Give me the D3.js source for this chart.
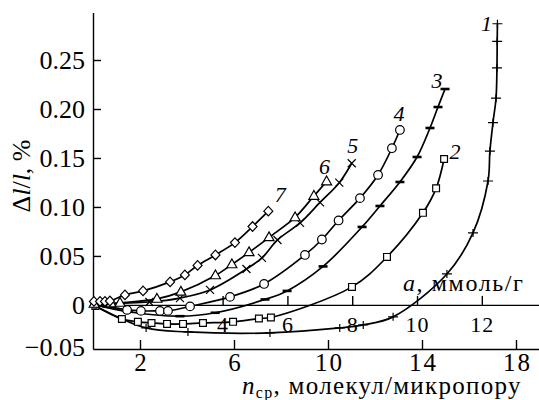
<!DOCTYPE html>
<html>
<head>
<meta charset="utf-8">
<script src="https://cdn.jsdelivr.net/npm/d3@7/dist/d3.min.js"></script>
<style>
  body { margin: 0; background: #fff; }
  svg { display: block; }
  svg text { font-family: 'Liberation Serif', 'DejaVu Serif', serif !important; fill: #000; }
</style>
</head>
<body>
<script>
// n_cp (molecules per micropore) vs dl/l, %
var s1 = [[0.1,-0.001],[2.26,-0.0235],[4.04,-0.0276],[7.53,-0.0286],[10.5,-0.0235],[11.5,-0.0204],
          [12.77,-0.0122],[15.06,0.0316],[16.17,0.0735],[16.81,0.1265],[16.89,0.157],[17.02,0.186],
          [17.15,0.211],[17.19,0.242],[17.2,0.269],[17.21,0.287]];
var s2 = [[0.1,-0.001],[1.23,-0.0143],[1.91,-0.0173],[2.49,-0.0184],[3.15,-0.0194],[3.83,-0.0194],
          [4.68,-0.0184],[5.96,-0.0173],[7.06,-0.0138],[7.57,-0.0128],[11.02,0.0184],[12.51,0.049],
          [14.04,0.094],[14.6,0.119],[14.94,0.149]];
var s3 = [[0.1,0],[1.5,-0.007],[3.7,-0.0115],[5.2,-0.008],[7.32,0.0056],[8.26,0.0143],[9.79,0.0393],
          [11.45,0.0796],[12.21,0.101],[13.06,0.1255],[13.79,0.151],[14.34,0.1806],[14.68,0.202],
          [14.98,0.2204]];
var s4 = [[0.1,0.001],[1.45,-0.0051],[2.04,-0.0061],[2.85,-0.0061],[3.19,-0.0061],[4.13,-0.0015],
          [5.83,0.0082],[7.28,0.0214],[9.02,0.051],[9.74,0.0668],[10.45,0.0862],[11.36,0.109],
          [12.13,0.1327],[12.72,0.160],[13.06,0.1786]];
var s5 = [[0.3,0.001],[2.4,0.003],[3.7,0.007],[4.98,0.0153],[6.53,0.0367],[7.19,0.048],[7.85,0.0663],
          [8.81,0.0837],[9.66,0.1046],[10.48,0.1248],[11.01,0.1446]];
var s6 = [[0.05,0.001],[0.77,0.0015],[1.15,0.002],[2.72,0.0061],[3.74,0.0133],[5.21,0.0301],
          [5.91,0.0413],[6.64,0.0536],[7.49,0.0689],[8.6,0.0893],[9.4,0.1112],[9.94,0.126]];
var s7 = [[0.04,0.0036],[0.3,0.0036],[0.51,0.0036],[0.72,0.004],[1.36,0.0102],[2.13,0.0143],
          [3.28,0.0235],[3.91,0.0306],[4.45,0.0403],[5.21,0.051],[6.04,0.0636],[6.79,0.080],
          [7.46,0.0957]];

var seriesNames = ["1","2","3","4","5","6","7"];
var nTicks = [2, 6, 10, 14, 18];
var aTicks = [4, 6, 8, 10, 12];
var yTicks = [-0.05, 0, 0.05, 0.10, 0.15, 0.20, 0.25];

var FONT = "'Liberation Serif', 'DejaVu Serif', serif";
var W = 539, H = 400;
var svg = d3.select("body").append("svg")
            .attr("width", W)
            .attr("height", H)
            .style("font-family", FONT);

var x = d3.scaleLinear().domain([0, 19]).range([93, 539.5]);
var xa = d3.scaleLinear().domain([0, 13.78]).range([93, 539.5]);   // a, mmol/g
var y = d3.scaleLinear().domain([-0.045, 0.2985]).range([349, 12.5]);

// axes
var yAxis = svg.append("g")
    .attr("transform", "translate(93,0)")
    .call(d3.axisLeft(y).tickValues(yTicks).tickSizeInner(-8).tickSizeOuter(0).tickPadding(8)
        .tickFormat(function(d){ return d === 0 ? "0" : d3.format(".2f")(d); }));
yAxis.selectAll(".tick").filter(function(d){ return d < -0.045; })
    .each(function(){ d3.select(this).select("line").remove();
                      d3.select(this).select("text").attr("dy", "0.05em"); });

var xAxis = svg.append("g")
    .attr("transform", "translate(0,349)")
    .call(d3.axisBottom(x).tickValues(nTicks).tickSizeInner(-9).tickSizeOuter(0).tickPadding(4));

var aAxis = svg.append("g")
    .attr("transform", "translate(0," + y(0) + ")")
    .call(d3.axisBottom(xa).tickValues(aTicks).tickSizeInner(-9).tickSizeOuter(0).tickPadding(11));

svg.selectAll("g").attr("font-family", FONT);
svg.selectAll(".domain, .tick line").attr("stroke", "#000").attr("stroke-width", 1.4);
yAxis.selectAll("text").attr("font-size", 26);
xAxis.selectAll("text").attr("font-size", 25).attr("letter-spacing", 2).attr("dx", 1);
aAxis.selectAll("text").attr("font-size", 22).attr("letter-spacing", 1);

// titles
var yt = svg.append("text")
    .attr("transform", "translate(30,176) rotate(-90)")
    .attr("text-anchor", "middle")
    .attr("font-size", 26);
yt.append("tspan").text("\u0394");
yt.append("tspan").attr("font-style", "italic").text("l");
yt.append("tspan").text("/");
yt.append("tspan").attr("font-style", "italic").text("l");
yt.append("tspan").text(", %");

var xt = svg.append("text")
    .attr("x", 242).attr("y", 394)
    .attr("font-size", 25)
    .attr("letter-spacing", 1.3);
xt.append("tspan").attr("font-style", "italic").text("n");
xt.append("tspan").attr("font-size", 16).attr("dy", 4).text("\u0441\u0440");
xt.append("tspan").attr("dy", -4).text(", \u043c\u043e\u043b\u0435\u043a\u0443\u043b/\u043c\u0438\u043a\u0440\u043e\u043f\u043e\u0440\u0443");

var at = svg.append("text")
    .attr("x", 403).attr("y", 291)
    .attr("font-size", 24)
    .attr("letter-spacing", 1.6);
at.append("tspan").attr("font-style", "italic").text("a");
at.append("tspan").text(", \u043c\u043c\u043e\u043b\u044c/\u0433");

// curves
var line = d3.line()
    .x(function(d){ return x(d[0]); })
    .y(function(d){ return y(d[1]); })
    .curve(d3.curveCatmullRom.alpha(0.5));

var all = [s1, s2, s3, s4, s5, s6, s7];

svg.selectAll("path.curve")
    .data(all)
    .enter().append("path")
    .attr("class", "curve")
    .attr("d", line)
    .attr("fill", "none")
    .attr("stroke", "#000")
    .attr("stroke-width", 1.7);

// markers
var sym = {
  plus: "M-5,0H5M0,-4V4",
  square: "M-3.4,-3.4H3.4V3.4H-3.4Z",
  dash: "M-4.5,0H4.5",
  cross: "M-4,-4L4,4M-4,4L4,-4",
  tri: "M0,-5.5L5,3.3H-5Z",
  diamond: "M0,-4.8L4.5,0L0,4.8L-4.5,0Z"
};
var markerOf = ["plus", "square", "dash", "circle", "cross", "tri", "diamond"];

all.forEach(function(s, i){
    var g = svg.append("g");
    var kind = markerOf[i];
    var m = g.selectAll("g").data(s).enter().append("g")
        .attr("transform", function(d){ return "translate(" + x(d[0]) + "," + y(d[1]) + ")"; });
    if (kind === "circle") {
        m.append("circle").attr("r", 4.3).attr("fill", "#fff").attr("stroke", "#000").attr("stroke-width", 1.2);
    } else {
        m.append("path").attr("d", sym[kind])
            .attr("fill", (kind === "plus" || kind === "dash" || kind === "cross") ? "none" : "#fff")
            .attr("stroke", "#000")
            .attr("stroke-width", kind === "dash" ? 2.6 : 1.2);
    }
});

// curve numbers, placed off the last point of each series
var labOff = [[-11, 0], [11, -8], [-8, -9], [-1, -17], [1, -18], [-2, -15], [12, -17]];
all.forEach(function(s, i){
    var last = s[s.length - 1];
    svg.append("text")
        .attr("x", x(last[0]) + labOff[i][0])
        .attr("y", y(last[1]) + labOff[i][1])
        .attr("dy", "0.35em")
        .attr("text-anchor", "middle")
        .attr("font-style", "italic")
        .attr("font-size", 22)
        .text(seriesNames[i]);
});
</script>
</body>
</html>
